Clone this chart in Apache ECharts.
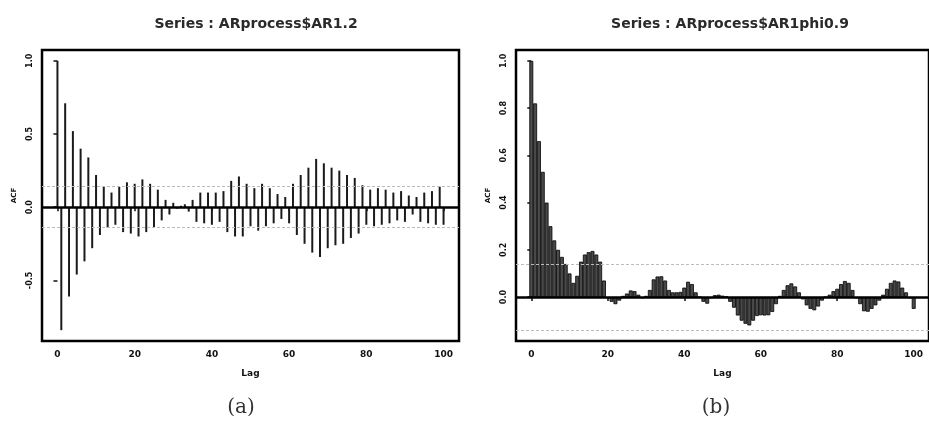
<!DOCTYPE html>
<html>
<head>
<meta charset="utf-8">
<script src="https://cdn.jsdelivr.net/npm/echarts@6/dist/echarts.min.js"></script>
<style>
  html, body { margin: 0; padding: 0; background: #fff; }
  #chart { width: 929px; height: 422px; }
</style>
</head>
<body>
<div id="chart"></div>
<script>
// Sample autocorrelations, lags 0..100
const lags = Array.from({ length: 101 }, (_, i) => i);

const acfAR12 = [
  1.00, -0.84, 0.71, -0.61, 0.52, -0.46, 0.40, -0.37, 0.34, -0.28,
  0.22, -0.19, 0.14, -0.14, 0.10, -0.12, 0.14, -0.17, 0.17, -0.18,
  0.16, -0.20, 0.19, -0.17, 0.16, -0.14, 0.12, -0.09, 0.05, -0.05,
  0.03, -0.01, 0.01, 0.02, -0.03, 0.05, -0.10, 0.10, -0.11, 0.10,
  -0.12, 0.10, -0.10, 0.11, -0.17, 0.18, -0.20, 0.21, -0.20, 0.16,
  -0.13, 0.13, -0.16, 0.16, -0.13, 0.13, -0.11, 0.09, -0.08, 0.07,
  -0.11, 0.16, -0.19, 0.22, -0.25, 0.27, -0.31, 0.33, -0.34, 0.30,
  -0.28, 0.27, -0.26, 0.25, -0.25, 0.22, -0.21, 0.20, -0.18, 0.15,
  -0.12, 0.12, -0.13, 0.13, -0.12, 0.12, -0.11, 0.10, -0.09, 0.11,
  -0.10, 0.08, -0.05, 0.07, -0.10, 0.10, -0.11, 0.11, -0.12, 0.14,
  -0.12
];

const acfAR1phi09 = [
  1.00, 0.82, 0.66, 0.53, 0.40, 0.30, 0.24, 0.20, 0.17, 0.14,
  0.10, 0.06, 0.09, 0.15, 0.18, 0.19, 0.195, 0.18, 0.15, 0.07,
  -0.005, -0.02, -0.03, -0.015, 0.005, 0.015, 0.028, 0.025, 0.01, -0.005,
  0.005, 0.03, 0.075, 0.087, 0.088, 0.07, 0.03, 0.02, 0.02, 0.022,
  0.04, 0.065, 0.055, 0.02, 0.0, -0.02, -0.028, -0.005, 0.008, 0.01,
  0.006, 0.002, -0.02, -0.045, -0.078, -0.10, -0.113, -0.12, -0.10, -0.08,
  -0.077, -0.078, -0.077, -0.063, -0.03, 0.005, 0.03, 0.05, 0.058, 0.045,
  0.02, -0.01, -0.035, -0.05, -0.056, -0.04, -0.015, 0.0, 0.01, 0.025,
  0.035, 0.055, 0.068, 0.06, 0.03, -0.005, -0.03, -0.06, -0.062, -0.05,
  -0.035, -0.015, 0.01, 0.035, 0.06, 0.07, 0.066, 0.04, 0.02, -0.005,
  -0.05
];

// 95% confidence bound for white noise
const ciBound = 0.139;

const lagTicks = [0, 20, 40, 60, 80, 100];
const yTicksA = [-0.5, 0.0, 0.5, 1.0];
const yTicksB = [0.0, 0.2, 0.4, 0.6, 0.8, 1.0];

const titles = ['Series : ARprocess$AR1.2', 'Series : ARprocess$AR1phi0.9'];
const captions = ['(a)', '(b)'];

const pairs = (vals) => lags.map((l, i) => [l, vals[i]]);

const chart = echarts.init(document.getElementById('chart'), null, { renderer: 'canvas' });

const sans = 'DejaVu Sans, Liberation Sans, Arial, sans-serif';
const tickFont = { fontFamily: sans, fontSize: 9, fontWeight: 'bold', color: '#111' };

function xAxisFor(gridIndex) {
  return {
    gridIndex, type: 'value', min: -4, max: 104,
    name: 'Lag', nameLocation: 'middle', nameGap: 28,
    nameTextStyle: { fontFamily: sans, fontSize: 9, fontWeight: 'bold', color: '#111' },
    axisLine: { show: false },
    splitLine: { show: false },
    axisTick: { show: true, length: 4, lineStyle: { color: '#111', width: 1.5 }, customValues: lagTicks },
    axisLabel: { ...tickFont, margin: 9, customValues: lagTicks, formatter: v => String(v) }
  };
}

function yAxisFor(gridIndex, min, max, ticks, nameGap) {
  return {
    gridIndex, type: 'value', min, max,
    name: 'ACF', nameLocation: 'middle', nameGap, nameRotate: 90,
    nameTextStyle: { fontFamily: sans, fontSize: 7, fontWeight: 'bold', color: '#111' },
    axisLine: { show: false },
    splitLine: { show: false },
    axisTick: { show: true, length: 4, lineStyle: { color: '#111', width: 1.5 }, customValues: ticks },
    axisLabel: { ...tickFont, fontSize: 8, rotate: 90, margin: 8, customValues: ticks, formatter: v => v.toFixed(1) }
  };
}

function refLines() {
  return {
    silent: true, symbol: 'none', label: { show: false },
    data: [
      { yAxis: ciBound, lineStyle: { color: '#bbb', type: [3, 2], width: 1 } },
      { yAxis: -ciBound, lineStyle: { color: '#bbb', type: [3, 2], width: 1 } },
      { yAxis: 0, lineStyle: { color: '#000', type: 'solid', width: 2.5 } }
    ]
  };
}

const titleStyle = { fontFamily: sans, fontSize: 14, fontWeight: 'bold', color: '#2a2a2a' };
const captionStyle = { fontFamily: 'DejaVu Serif, Liberation Serif, serif', fontSize: 20, fontWeight: 'normal', color: '#333' };

chart.setOption({
  animation: false,
  backgroundColor: '#fff',
  title: [
    { text: titles[0], left: 251, top: 12, textAlign: 'center', textStyle: titleStyle },
    { text: titles[1], left: 725, top: 12, textAlign: 'center', textStyle: titleStyle },
    { text: captions[0], left: 236, top: 393, textAlign: 'center', textStyle: captionStyle },
    { text: captions[1], left: 711, top: 393, textAlign: 'center', textStyle: captionStyle }
  ],
  grid: [
    { left: 42, top: 50, width: 417, height: 291, show: true, borderColor: '#000', borderWidth: 2.5, backgroundColor: 'transparent' },
    { left: 516, top: 50, width: 417, height: 291, show: true, borderColor: '#000', borderWidth: 2.5, backgroundColor: 'transparent' }
  ],
  xAxis: [xAxisFor(0), xAxisFor(1)],
  yAxis: [
    yAxisFor(0, -0.914, 1.074, yTicksA, 24),
    yAxisFor(1, -0.186, 1.046, yTicksB, 24)
  ],
  series: [
    {
      type: 'bar', xAxisIndex: 0, yAxisIndex: 0,
      data: pairs(acfAR12), barWidth: 2,
      itemStyle: { color: '#1a1a1a' },
      markLine: refLines()
    },
    {
      type: 'bar', xAxisIndex: 1, yAxisIndex: 1,
      data: pairs(acfAR1phi09), barWidth: 3.9,
      itemStyle: { color: '#4a4a4a', borderColor: '#000', borderWidth: 0.8 },
      markLine: refLines()
    }
  ]
});
</script>
</body>
</html>
